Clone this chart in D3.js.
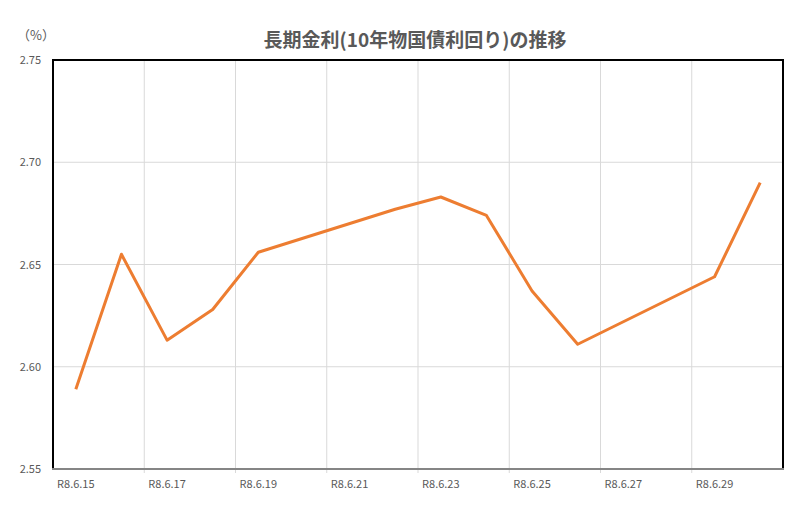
<!DOCTYPE html>
<html>
<head>
<meta charset="utf-8">
<script src="https://cdn.jsdelivr.net/npm/d3@7"></script>
<style>
  body { margin: 0; background: #fff; }
  svg text { font-family: "Noto Sans CJK JP", "Noto Sans", sans-serif; fill: #595959; }
</style>
</head>
<body>
<svg width="800" height="516"></svg>
<script>
"use strict"

// categories on the date axis (every calendar day)
const days = ["R8.6.15", "R8.6.16", "R8.6.17", "R8.6.18", "R8.6.19", "R8.6.20", "R8.6.21", "R8.6.22",
              "R8.6.23", "R8.6.24", "R8.6.25", "R8.6.26", "R8.6.27", "R8.6.28", "R8.6.29", "R8.6.30"]
// business days that have a value
const obsDays = ["R8.6.15", "R8.6.16", "R8.6.17", "R8.6.18", "R8.6.19", "R8.6.22",
                 "R8.6.23", "R8.6.24", "R8.6.25", "R8.6.26", "R8.6.29", "R8.6.30"]
const yields = [2.589, 2.655, 2.613, 2.628, 2.656, 2.677, 2.683, 2.674, 2.637, 2.611, 2.644, 2.690]
const yTicks = [2.55, 2.60, 2.65, 2.70, 2.75]
const titleText = "長期金利(10年物国債利回り)の推移"
const unitText = "（%）"

const margin = {left: 53, right: 17, top: 60, bottom: 47}
const width = 800 - margin.left - margin.right
const height = 516 - margin.top - margin.bottom

const svg = d3.select("svg")

const x = d3.scaleBand().domain(days).range([0, width]).padding(0)
const y = d3.scaleLinear().domain([2.55, 2.75]).range([height, 0])

const g = svg.append("g")
    .attr("transform", "translate(" + margin.left + "," + margin.top + ")")

// horizontal gridlines
g.append("g")
    .selectAll("line")
    .data(yTicks.slice(1, -1))
    .enter()
    .append("line")
    .attr("x1", 0).attr("x2", width)
    .attr("y1", d => y(d)).attr("y2", d => y(d))
    .style("stroke", "#d9d9d9")
    .style("stroke-width", 1)

// vertical gridlines every two days
const vLines = days.filter((d, i) => i > 0 && i % 2 === 0)
g.append("g")
    .selectAll("line")
    .data(vLines)
    .enter()
    .append("line")
    .attr("x1", d => x(d)).attr("x2", d => x(d))
    .attr("y1", 0).attr("y2", height + 4)
    .style("stroke", "#d9d9d9")
    .style("stroke-width", 1)

// y axis labels
const yAxis = d3.axisLeft(y).tickValues(yTicks).tickFormat(d3.format(".2f")).tickSize(0).tickPadding(12)
g.append("g")
    .call(yAxis)
    .call(a => a.select(".domain").remove())
    .selectAll("text")
    .style("font-size", "11px")
    .style("fill", "#595959")

// x axis labels every two days
const xAxis = d3.axisBottom(x).tickValues(days.filter((d, i) => i % 2 === 0)).tickSize(0).tickPadding(11)
g.append("g")
    .attr("transform", "translate(0," + height + ")")
    .call(xAxis)
    .call(a => a.select(".domain").remove())
    .selectAll("text")
    .style("font-size", "11px")
    .style("fill", "#595959")

// plot frame
g.append("path")
    .attr("d", "M0," + height + "V0H" + width + "V" + height)
    .style("fill", "none")
    .style("stroke", "#000")
    .style("stroke-width", 2)
g.append("line")
    .attr("x1", -1).attr("x2", width + 1)
    .attr("y1", height).attr("y2", height)
    .style("stroke", "#858585")
    .style("stroke-width", 2)

// the line
const line = d3.line()
    .x((d, i) => x(obsDays[i]) + x.bandwidth() / 2)
    .y(d => y(d))
g.append("path")
    .datum(yields)
    .attr("d", line)
    .style("fill", "none")
    .style("stroke", "#ED7D31")
    .style("stroke-width", 3)
    .style("stroke-linejoin", "round")

// title and unit
svg.append("text")
    .attr("x", 415).attr("y", 47)
    .attr("text-anchor", "middle")
    .style("font-size", "19px")
    .style("font-weight", "bold")
    .text(titleText)

svg.append("text")
    .attr("x", 36).attr("y", 40)
    .attr("text-anchor", "middle")
    .style("font-size", "13px")
    .text(unitText)
</script>
</body>
</html>
